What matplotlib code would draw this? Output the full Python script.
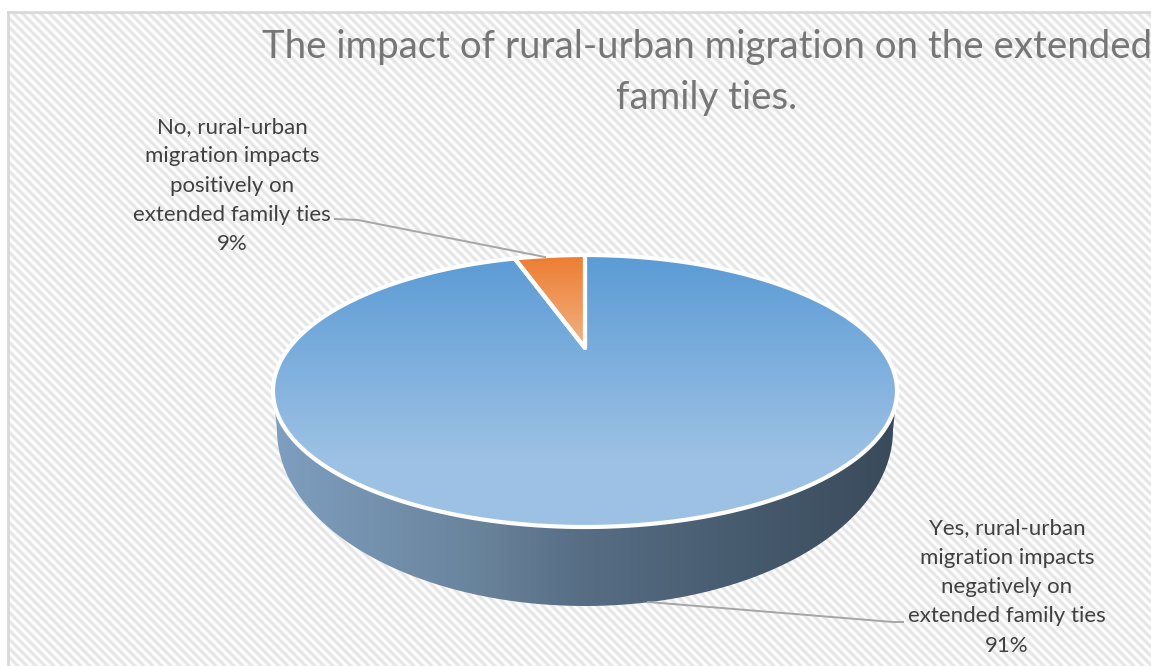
import numpy as np
import matplotlib
matplotlib.use('Agg')
import matplotlib.pyplot as plt
from matplotlib.patches import Polygon
from matplotlib.colors import LinearSegmentedColormap
from matplotlib.transforms import Affine2D

plt.rcParams['font.family'] = ['Lato', 'DejaVu Sans']

title = 'The impact of rural-urban migration on the extended\nfamily ties.'
categories = ['Yes, rural-urban\nmigration impacts\nnegatively on\nextended family ties',
              'No, rural-urban\nmigration impacts\npositively on\nextended family ties']
# printed labels
percent = [91, 9]
# the slices as they are actually drawn in the picture (they do not follow the printed labels)
drawn_share = [95, 5]

W, H = 1151, 666

fig = plt.figure(figsize=(W / 100, H / 100), dpi=100)
ax = fig.add_axes([0, 0, 1, 1])
wedges, _ = ax.pie(drawn_share, startangle=90, counterclock=False)

# perspective of the tilted disc, apex sits above the middle of the ellipse
cx, cy, rx, ry = 585, 391, 312, 136
tilt = 0.316


def project(pts):
    x, y = pts[:, 0], pts[:, 1]
    d = 1 + tilt * y
    xp = x * np.sqrt(1 - tilt ** 2) / d
    yp = (y + tilt) / d
    return np.column_stack((cx + rx * xp, cy - ry * yp))


polys = []
for w in wedges:
    p = w.get_path().to_polygons(Affine2D().scale(1000), closed_only=False)[0] / 1000
    polys.append(project(p))
    w.remove()

# hatched background
yy, xx = np.mgrid[0:H, 0:W]
stripes = 0.5 + 0.5 * np.cos(2 * np.pi * (xx - yy) / 9.0)
bg = 1.0 - 0.11 * stripes
bg[:12, :] = 1
bg[:, :8] = 1
ax.imshow(bg, cmap='gray', vmin=0, vmax=1, extent=(0, W, H, 0), interpolation='nearest', zorder=0)
ax.plot([8, 8], [H, 12], color='#d9d9d9', lw=2, zorder=1)
ax.plot([8, W], [12, 12], color='#d9d9d9', lw=2, zorder=1)

# side wall
t = np.linspace(0, np.pi, 200)
top_edge = np.column_stack((cx + rx * np.cos(t), cy + ry * np.sin(t)))
t2 = np.linspace(np.pi, 0, 200)
low_edge = np.column_stack((cx + 308 * np.cos(t2), 430 + 176 * np.sin(t2)))
wall = Polygon(np.vstack((top_edge, low_edge)), closed=True, fc='none', ec='none', transform=ax.transData)
ax.add_patch(wall)
wall_cmap = LinearSegmentedColormap.from_list('wall', [(0, '#7f9fc0'), (0.35, '#678199'), (0.5, '#566d84'), (1, '#394a5a')])
im = ax.imshow(np.linspace(0, 1, 256)[None, :], cmap=wall_cmap, extent=(273, 897, 610, 390), aspect='auto', zorder=2)
im.set_clip_path(wall)

# top of the pie
slice_styles = [(['#5b9bd5', '#9dc1e4', '#9dc1e4'], 255, 527), (['#ed7d31', '#f2b285'], 255, 348)]
for poly, (stops, y0, y1) in zip(polys, slice_styles):
    patch = Polygon(poly, closed=True, fc='none', ec='none')
    ax.add_patch(patch)
    if len(stops) == 3:
        cmap = LinearSegmentedColormap.from_list('g', [(0, stops[0]), (0.75, stops[1]), (1, stops[2])])
    else:
        cmap = LinearSegmentedColormap.from_list('g', stops)
    im = ax.imshow(np.linspace(0, 1, 256)[:, None], cmap=cmap, extent=(260, 910, y1, y0), aspect='auto', zorder=3)
    im.set_clip_path(patch)
    ax.add_patch(Polygon(poly, closed=True, fc='none', ec='white', lw=3, joinstyle='round', zorder=4))

# leader lines
ax.plot([335, 358, 545], [219, 220, 257], color='#a6a6a6', lw=1.4, zorder=5)
ax.plot([648, 893, 903], [602, 622, 622], color='#a6a6a6', lw=1.4, zorder=5)

# texts
ax.text(707, 72.5, title, ha='center', va='center', color='#767676', fontsize=27.6, linespacing=1.55, zorder=6)
label_pos = [(1007, 587), (232, 185.5)]
for cat, pct, (lx, ly) in zip(categories, percent, label_pos):
    ax.text(lx, ly, '%s\n%d%%' % (cat, pct), ha='center', va='center', color='#404040',
            fontsize=16, linespacing=1.58, zorder=6)

ax.set_aspect('auto')
ax.set_xlim(0, W)
ax.set_ylim(H, 0)
ax.axis('off')

fig.savefig('out.png', dpi=100)
plt.close()
